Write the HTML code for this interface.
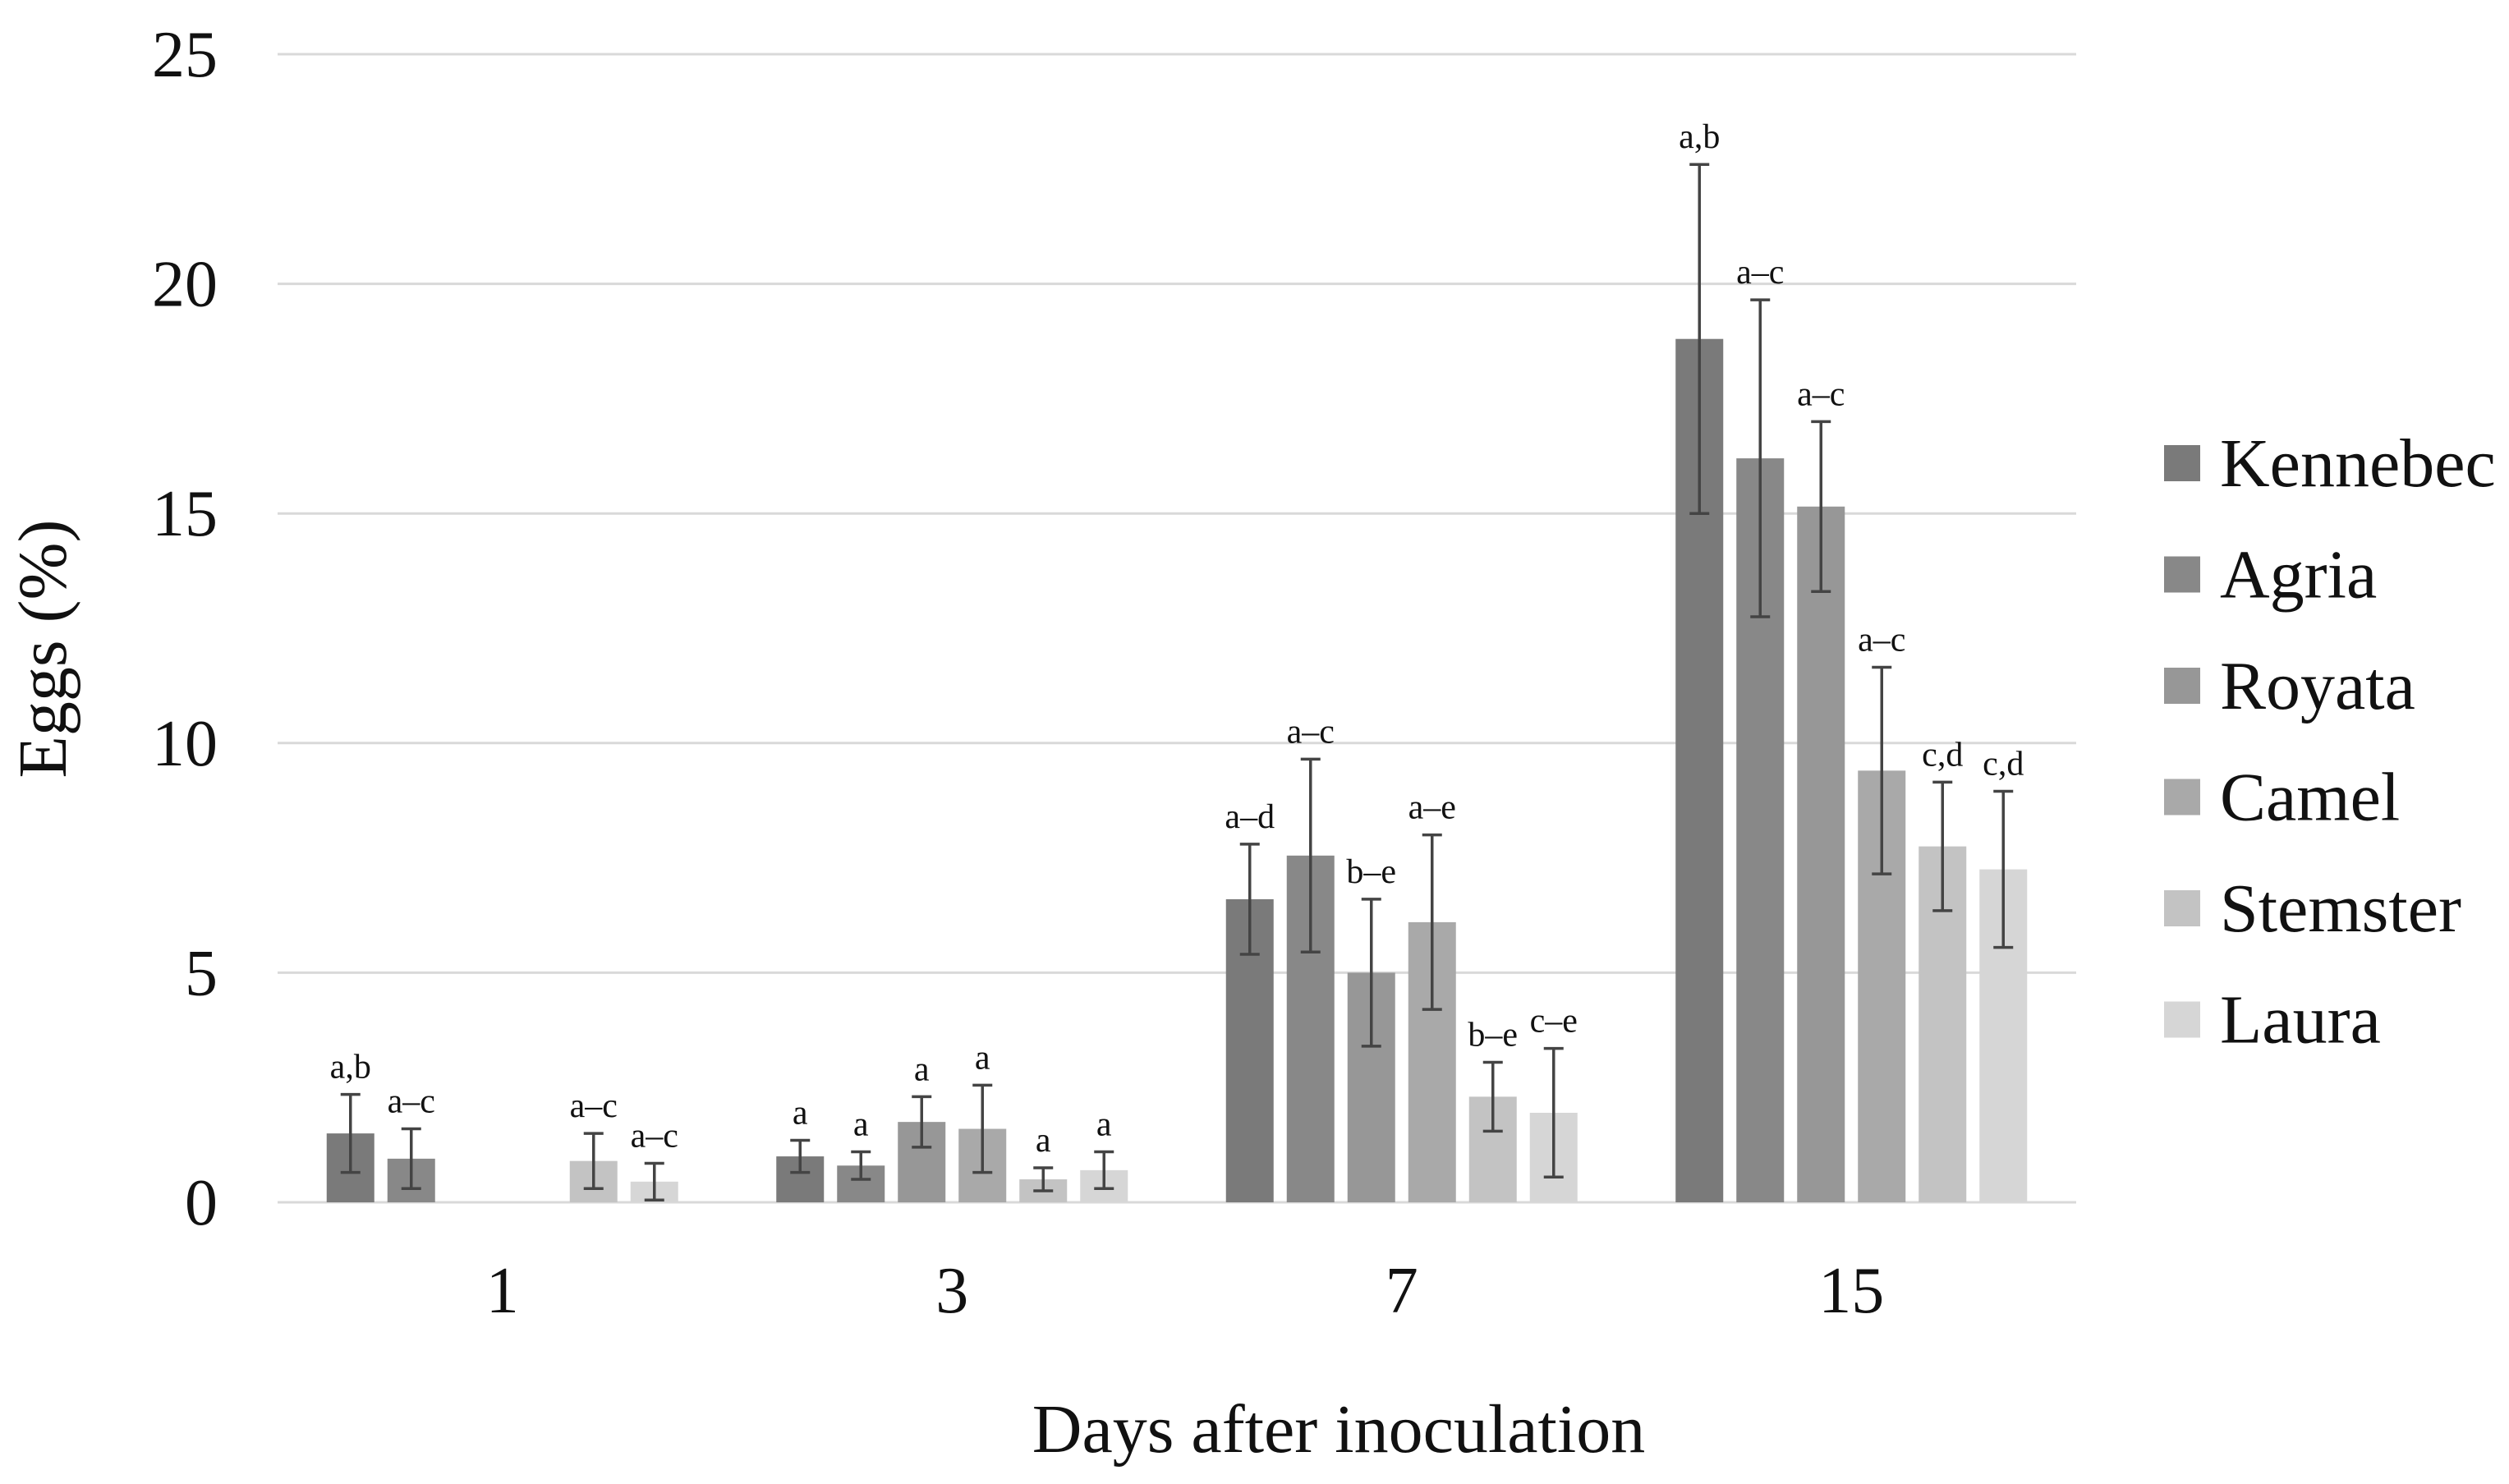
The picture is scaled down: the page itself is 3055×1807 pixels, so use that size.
<!DOCTYPE html>
<html><head><meta charset="utf-8"><style>
html,body{margin:0;padding:0;background:#fff;}
svg{display:block;font-family:"Liberation Serif",serif;}
</style></head><body>
<svg id="chart" width="3055" height="1807" viewBox="0 0 3055 1807" xmlns="http://www.w3.org/2000/svg">
<g id="grid"></g>
<g id="bars"></g>
<g id="axes"></g>
<g id="legend"></g>
<text x="0" y="0" transform="translate(80,790) rotate(-90)" text-anchor="middle" font-size="84" fill="#111">Eggs (%)</text>
<text x="1630" y="1768" text-anchor="middle" font-size="84" fill="#111">Days after inoculation</text>
</svg>
<script>
const categories = ["1","3","7","15"];
const seriesNames = ["Kennebec","Agria","Royata","Camel","Stemster","Laura"];
const seriesColors = ["#7a7a7a","#888888","#979797","#a9a9a9","#c3c3c3","#d6d6d6"];
const kennebec = [1.5, 1.0, 6.6, 18.8];
const agria = [0.95, 0.8, 7.55, 16.2];
const royata = [0, 1.75, 5.0, 15.15];
const camel = [0, 1.6, 6.1, 9.4];
const stemster = [0.9, 0.5, 2.3, 7.75];
const laura = [0.45, 0.7, 1.95, 7.25];
const errK = [0.85, 0.35, 1.2, 3.8];
const errA = [0.65, 0.3, 2.1, 3.45];
const errR = [0, 0.55, 1.6, 1.85];
const errC = [0, 0.95, 1.9, 2.25];
const errS = [0.6, 0.25, 0.75, 1.4];
const errL = [0.4, 0.4, 1.4, 1.7];
const letK = ["a,b","a","a–d","a,b"];
const letA = ["a–c","a","a–c","a–c"];
const letR = ["","a","b–e","a–c"];
const letC = ["","a","a–e","a–c"];
const letS = ["a–c","a","b–e","c,d"];
const letL = ["a–c","a","c–e","c,d"];
const yTicks = [0,5,10,15,20,25];

const series = [kennebec,agria,royata,camel,stemster,laura];
const errs = [errK,errA,errR,errC,errS,errL];
const lets = [letK,letA,letR,letC,letS,letL];
const NS="http://www.w3.org/2000/svg";
const X0=338,X1=2528,Y0=1464,Y25=66;
const groupW=(X1-X0)/categories.length, pitch=74, barW=58;
function y(v){return Y0-(v/25)*(Y0-Y25);}
function gx(i){return X0+groupW*(i+0.5);}
function bx(i,s){return gx(i)+(s-2.5)*pitch;}
function mk(tag,attrs,parent){const e=document.createElementNS(NS,tag);for(const k in attrs)e.setAttribute(k,attrs[k]);parent.appendChild(e);return e;}
const grid=document.getElementById('grid'),bars=document.getElementById('bars'),axes=document.getElementById('axes'),legend=document.getElementById('legend');
yTicks.forEach(t=>{
  const l=mk('line',{x1:X0,x2:X1,y1:y(t),y2:y(t),stroke:'#d9d9d9','stroke-width':3},grid);
  
  
  const tx=mk('text',{x:265,y:y(t)+27,'text-anchor':'end','font-size':80,fill:'#111'},axes);
  tx.textContent=t;
  
  
});
categories.forEach((c,i)=>{
  const tx=mk('text',{x:gx(i),y:1598,'text-anchor':'middle','font-size':80,fill:'#111'},axes);
  tx.textContent=c;
  
  
  series.forEach((s,k)=>{
    const v=s[i],e=errs[k][i],cx=bx(i,k);
    if(v>0){
      const r=mk('rect',{x:cx-barW/2,y:y(v),width:barW,height:Y0-y(v),fill:seriesColors[k]},bars);
      
      
    }
    if(v>0||e>0){
      const g=mk('g',{stroke:'#444','stroke-width':3.5},bars);
      
      
      const lo=Math.max(0,v-e),hi=v+e;
      mk('line',{x1:cx,x2:cx,y1:y(hi),y2:y(lo)},g);
      mk('line',{x1:cx-12,x2:cx+12,y1:y(hi),y2:y(hi)},g);
      mk('line',{x1:cx-12,x2:cx+12,y1:y(lo),y2:y(lo)},g);
      const lt=mk('text',{x:cx,y:y(hi)-20,'text-anchor':'middle','font-size':42,fill:'#111'},bars);
      lt.textContent=lets[k][i];
      
      
    }
  });
});
seriesNames.forEach((n,k)=>{
  const cy=564+k*135.5;
  const g=mk('g',{},legend);
  
  
  mk('rect',{x:2635,y:cy-22,width:44,height:44,fill:seriesColors[k]},g);
  const t=mk('text',{x:2703,y:cy+28,'font-size':84,fill:'#111'},g);
  t.textContent=n;
});
</script>
</body></html>
